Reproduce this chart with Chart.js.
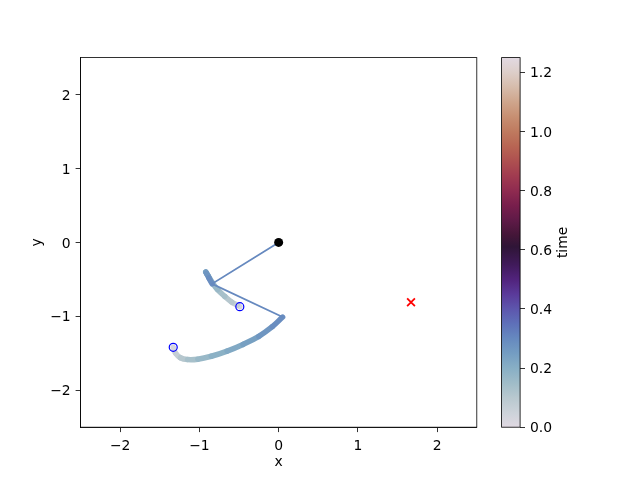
<!DOCTYPE html>
<html>
<head>
<meta charset="utf-8">
<script src="https://cdn.jsdelivr.net/npm/chart.js@4.4.0/dist/chart.umd.min.js"></script>
<style>
  html, body { margin: 0; padding: 0; background: #fff; }
  #wrap { position: relative; width: 640px; height: 480px; }
  #wrap canvas { position: absolute; left: 0; top: 0; }
</style>
</head>
<body>
<div id="wrap">
  <canvas id="mainChart" width="640" height="480"></canvas>
  <canvas id="colorBar" width="640" height="480"></canvas>
</div>
<script>
// --- DATA ---
const xTicks = [-2, -1, 0, 1, 2];
const yTicks = [-2, -1, 0, 1, 2];
const cbTicks = [0, 0.2, 0.4, 0.6, 0.8, 1.0, 1.2];
const timeMax = 1.25;
const timeNow = 0.3;

// first mass trail
const trail1X = [-0.49, -0.52, -0.59, -0.68, -0.77, -0.84, -0.89, -0.92, -0.91, -0.88, -0.84];
const trail1Y = [-0.87, -0.85, -0.81, -0.73, -0.64, -0.54, -0.45, -0.40, -0.42, -0.48, -0.56];
const trail1T = [0, 0.05, 0.09, 0.12, 0.15, 0.18, 0.21, 0.24, 0.26, 0.28, 0.30];

// second mass trail
const trail2X = [-1.33, -1.30, -1.24, -1.15, -1.02, -0.85, -0.65, -0.45, -0.25, -0.08, 0.05];
const trail2Y = [-1.42, -1.50, -1.56, -1.585, -1.58, -1.54, -1.47, -1.38, -1.27, -1.14, -1.01];
const trail2T = [0, 0.05, 0.09, 0.12, 0.15, 0.18, 0.205, 0.23, 0.255, 0.28, 0.30];

// rods: pivot -> mass 1 -> mass 2
const rodX = [0, -0.84, 0.05];
const rodY = [0, -0.56, -1.01];

// start positions and target
const startX = [-0.49, -1.33];
const startY = [-0.87, -1.42];
const targetX = [1.67];
const targetY = [-0.81];

// colormap (twilight) stops, in time units
const cmapV = [0, 0.05, 0.1, 0.15, 0.2, 0.25, 0.3, 0.35, 0.4, 0.45, 0.5, 0.55, 0.61, 0.65, 0.7, 0.75, 0.8, 0.85, 0.9, 0.95, 1.0, 1.05, 1.1, 1.15, 1.2, 1.25];
const cmapC = ['#e0d9e2', '#ccd2d9', '#b8c8cf', '#9fbcc8', '#88afc5', '#749dc2', '#6689bf', '#5e70b9',
               '#5d56ad', '#5a3a9a', '#51237c', '#401a5a', '#2f1537', '#441638', '#5f1a47', '#781e4c',
               '#8f2b50', '#a13b50', '#ae5050', '#b86553', '#bf7a5f', '#c78f72', '#cfa58c', '#d6bcab',
               '#ddcec9', '#e2d9e2'];

function hexToRgb(h) {
    return [parseInt(h.substr(1, 2), 16), parseInt(h.substr(3, 2), 16), parseInt(h.substr(5, 2), 16)];
}

function twilight(v) {
    if (v <= cmapV[0]) return cmapC[0];
    for (let i = 1; i < cmapV.length; i++) {
        if (v <= cmapV[i]) {
            const f = (v - cmapV[i - 1]) / (cmapV[i] - cmapV[i - 1]);
            const a = hexToRgb(cmapC[i - 1]), b = hexToRgb(cmapC[i]);
            const c = a.map((x, k) => Math.round(x + (b[k] - x) * f));
            return `rgb(${c[0]},${c[1]},${c[2]})`;
        }
    }
    return cmapC[cmapC.length - 1];
}

const toPts = (xs, ys) => xs.map((x, i) => ({ x: x, y: ys[i] }));
const minus = v => String(v).replace('-', '\u2212');

Chart.defaults.font.family = "'DejaVu Sans', sans-serif";
Chart.defaults.font.size = 13.9;
Chart.defaults.color = '#000';

// --- MAIN AXES ---
const framePlugin = {
    id: 'frame',
    afterDraw(chart) {
        const a = chart.chartArea, ctx = chart.ctx;
        ctx.save();
        ctx.strokeStyle = '#000';
        ctx.lineWidth = 0.8;
        ctx.strokeRect(a.left, a.top, a.right - a.left, a.bottom - a.top);
        ctx.restore();
    }
};

const trailSet = (xs, ys, ts) => ({
    data: toPts(xs, ys),
    showLine: true,
    tension: 0.4,
    borderWidth: 5.5,
    borderCapStyle: 'round',
    borderJoinStyle: 'round',
    pointRadius: 0,
    segment: {
        borderColor: c => twilight((ts[c.p0DataIndex] + ts[c.p1DataIndex]) / 2)
    },
    order: 5
});

new Chart(document.getElementById('mainChart'), {
    type: 'scatter',
    data: {
        datasets: [
            trailSet(trail1X, trail1Y, trail1T),
            trailSet(trail2X, trail2Y, trail2T),
            {
                data: toPts(rodX, rodY),
                showLine: true,
                borderColor: twilight(timeNow),
                borderWidth: 1.8,
                pointRadius: 0,
                order: 4
            },
            {
                data: [{ x: 0, y: 0 }],
                pointRadius: 4.5,
                backgroundColor: '#000',
                borderWidth: 0,
                order: 3
            },
            {
                data: toPts(startX, startY),
                pointRadius: 4,
                backgroundColor: 'rgba(0,0,0,0)',
                borderColor: '#0000ff',
                borderWidth: 1.2,
                order: 2
            },
            {
                data: toPts(targetX, targetY),
                pointStyle: 'crossRot',
                pointRadius: 5.5,
                borderColor: '#ff0000',
                borderWidth: 1.8,
                order: 1
            }
        ]
    },
    options: {
        responsive: false,
        animation: false,
        layout: { padding: { left: 0, right: 163.2, top: 57.6, bottom: 0 } },
        plugins: { legend: { display: false }, tooltip: { enabled: false } },
        scales: {
            x: {
                type: 'linear', min: -2.5, max: 2.5,
                afterBuildTicks: s => { s.ticks = xTicks.map(v => ({ value: v })); },
                afterFit: s => { s.height = 52.8; },
                grid: { drawOnChartArea: false, tickLength: 4.9, color: '#000', lineWidth: 0.8 },
                border: { color: '#000', width: 0.8 },
                ticks: { padding: 5.5, maxRotation: 0, callback: v => minus(v) },
                title: { display: true, text: 'x', padding: { top: 0, bottom: 9.7 } }
            },
            y: {
                type: 'linear', min: -2.5, max: 2.5,
                afterBuildTicks: s => { s.ticks = yTicks.map(v => ({ value: v })); },
                afterFit: s => { s.width = 80.5; },
                grid: { drawOnChartArea: false, tickLength: 4.9, color: '#000', lineWidth: 0.8 },
                border: { color: '#000', width: 0.8 },
                ticks: { padding: 4.9, labelOffset: 1.5, callback: v => minus(v) },
                title: { display: true, text: 'y', padding: { top: 28.7, bottom: 0 } }
            }
        }
    },
    plugins: [framePlugin]
});

// --- COLORBAR ---
const gradientPlugin = {
    id: 'gradient',
    beforeDatasetsDraw(chart) {
        const a = chart.chartArea, ctx = chart.ctx;
        const g = ctx.createLinearGradient(0, a.bottom, 0, a.top);
        cmapV.forEach((v, i) => g.addColorStop(v / timeMax, cmapC[i]));
        ctx.save();
        ctx.fillStyle = g;
        ctx.fillRect(a.left, a.top, a.right - a.left, a.bottom - a.top);
        ctx.strokeStyle = '#000';
        ctx.lineWidth = 0.8;
        ctx.strokeRect(a.left, a.top, a.right - a.left, a.bottom - a.top);
        // label, reads bottom to top
        ctx.translate(563.5, (a.top + a.bottom) / 2);
        ctx.rotate(-Math.PI / 2);
        ctx.fillStyle = '#000';
        ctx.font = "13.9px 'DejaVu Sans', sans-serif";
        ctx.textAlign = 'center';
        ctx.textBaseline = 'middle';
        ctx.fillText('time', 0, 0);
        ctx.restore();
    }
};

new Chart(document.getElementById('colorBar'), {
    type: 'scatter',
    data: { datasets: [{ data: [] }] },
    options: {
        responsive: false,
        animation: false,
        layout: { padding: { left: 501.6, right: 59.9, top: 57.6, bottom: 52.8 } },
        plugins: { legend: { display: false }, tooltip: { enabled: false } },
        scales: {
            x: { display: false, min: 0, max: 1 },
            y: {
                position: 'right',
                type: 'linear', min: 0, max: timeMax,
                afterBuildTicks: s => { s.ticks = cbTicks.map(v => ({ value: v })); },
                afterFit: s => { s.width = 60; },
                grid: { drawOnChartArea: false, tickLength: 4.9, color: '#000', lineWidth: 0.8 },
                border: { display: false },
                ticks: { padding: 4.9, labelOffset: 1.5, callback: v => v.toFixed(1) }
            }
        }
    },
    plugins: [gradientPlugin]
});
</script>
</body>
</html>
